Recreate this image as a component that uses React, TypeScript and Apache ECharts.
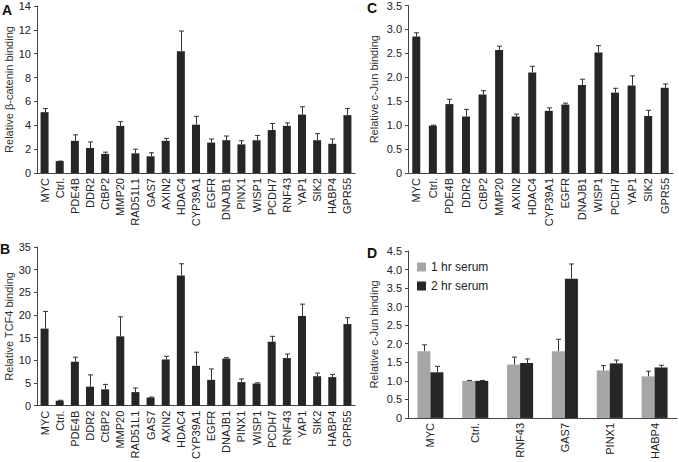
import React, { useEffect, useRef } from "react";
import * as echarts from "echarts";

const catsA = ["MYC","Ctrl.","PDE4B","DDR2","CtBP2","MMP20","RAD51L1","GAS7","AXIN2","HDAC4","CYP39A1","EGFR","DNAJB1","PINX1","WISP1","PCDH7","RNF43","YAP1","SIK2","HABP4","GPR55"];
const valsA = [5.1,1.0,2.7,2.1,1.6,3.95,1.65,1.4,2.7,10.2,4.05,2.55,2.75,2.4,2.75,3.6,3.95,4.9,2.75,2.45,4.85];
const errA = [0.3,0,0.5,0.5,0.15,0.35,0.35,0.3,0.2,1.7,0.7,0.3,0.35,0.3,0.4,0.55,0.25,0.65,0.55,0.4,0.55];

const catsB = catsA;
const valsB = [17.0,1.1,9.7,4.2,3.6,15.3,3.0,1.8,10.2,28.7,8.8,5.7,10.4,5.2,4.9,14.1,10.5,19.8,6.5,6.3,18.0];
const errB = [3.8,0.1,1.0,2.6,1.1,4.3,0.9,0.1,0.7,2.6,3.0,2.4,0.2,0.7,0.15,1.2,0.9,2.6,0.7,0.6,1.4];

const catsC = ["MYC","Ctrl.","PDE4B","DDR2","CtBP2","MMP20","AXIN2","HDAC4","CYP39A1","EGFR","DNAJB1","WISP1","PCDH7","YAP1","SIK2","GPR55"];
const valsC = [2.85,0.99,1.44,1.18,1.64,2.57,1.18,2.1,1.3,1.43,1.84,2.52,1.68,1.83,1.19,1.78];
const errC = [0.08,0.01,0.1,0.15,0.08,0.08,0.05,0.13,0.06,0.03,0.12,0.14,0.09,0.2,0.12,0.08];

const catsD = ["MYC","Ctrl.","RNF43","GAS7","PINX1","HABP4"];
const serum1 = [1.8,1.0,1.44,1.8,1.28,1.12];
const serum1Err = [0.17,0.01,0.2,0.32,0.13,0.14];
const serum2 = [1.23,1.0,1.48,3.75,1.47,1.36];
const serum2Err = [0.16,0.01,0.11,0.4,0.09,0.06];

const FONT = "'Liberation Sans', Arial, Helvetica, sans-serif";
const DARK = "#262626";
const GRAY = "#a6a6a6";

function errSeries(idx: number, vals: number[], errs: number[], offset: number) {
  return {
    type: "custom",
    xAxisIndex: idx,
    yAxisIndex: idx,
    z: 5,
    data: vals.map((v, i) => [i, v, errs[i]]),
    renderItem: (params: any, api: any) => {
      const x = api.value(0);
      const v = api.value(1);
      const e = api.value(2);
      const p0 = api.coord([x, v]);
      const p1 = api.coord([x, v + e]);
      const cx = Math.round(p0[0] + offset) + 0.5;
      return {
        type: "group",
        children: [
          { type: "line", shape: { x1: cx, y1: p0[1], x2: cx, y2: p1[1] }, style: { stroke: "#333", lineWidth: 1 } },
          { type: "line", shape: { x1: cx - 2.5, y1: p1[1], x2: cx + 2.5, y2: p1[1] }, style: { stroke: "#333", lineWidth: 1 } },
        ],
      };
    },
  };
}

function xAxis(idx: number, cats: string[]) {
  return {
    type: "category",
    gridIndex: idx,
    data: cats,
    axisLine: { lineStyle: { color: "#444", width: 1 } },
    axisTick: { length: 3, lineStyle: { color: "#444" } },
    axisLabel: { rotate: 90, interval: 0, fontSize: 11, color: "#222", fontFamily: FONT, margin: 5 },
  };
}

function yAxis(idx: number, max: number, interval: number, name: string, nameGap: number, dec: boolean) {
  return {
    type: "value",
    gridIndex: idx,
    min: 0,
    max,
    interval,
    name,
    nameLocation: "middle",
    nameRotate: 90,
    nameGap,
    nameTextStyle: { fontSize: 11, color: "#333", fontFamily: FONT },
    splitLine: { show: false },
    axisLine: { show: true, lineStyle: { color: "#444", width: 1 } },
    axisTick: { show: true, length: 3, lineStyle: { color: "#444" } },
    axisLabel: {
      fontSize: 11,
      color: "#222",
      fontFamily: FONT,
      margin: 6,
      formatter: (v: number) => (dec ? (v === 0 ? "0" : v.toFixed(1)) : String(v)),
    },
  };
}

export default function App() {
  const ref = useRef<HTMLDivElement>(null);
  useEffect(() => {
    const chart = echarts.init(ref.current!, null, { renderer: "svg" });
    const option: any = {
      animation: false,
      backgroundColor: "#fff",
      textStyle: { fontFamily: FONT },
      grid: [
        { left: 37, right: 324, top: 6, bottom: 289 },
        { left: 37, right: 324, top: 247, bottom: 49 },
        { left: 408, right: 6, top: 5, bottom: 289 },
        { left: 408, right: 2, top: 251, bottom: 43 },
      ],
      xAxis: [xAxis(0, catsA), xAxis(1, catsB), xAxis(2, catsC), xAxis(3, catsD)],
      yAxis: [
        yAxis(0, 14, 2, "Relative β-catenin binding", 22, false),
        yAxis(1, 35, 5, "Relative TCF4 binding", 22, false),
        yAxis(2, 3.5, 0.5, "Relative c-Jun binding", 29, true),
        yAxis(3, 4.5, 0.5, "Relative c-Jun binding", 29, true),
      ],
      legend: {
        data: ["1 hr serum", "2 hr serum"],
        orient: "vertical",
        left: 412,
        top: 256,
        itemWidth: 9,
        itemHeight: 9,
        itemGap: 7,
        icon: "rect",
        textStyle: { fontSize: 12, color: "#222", fontFamily: FONT },
      },
      graphic: [
        { type: "text", left: 2, top: 3, style: { text: "A", font: `bold 14px ${FONT}`, fill: "#111" } },
        { type: "text", left: 0, top: 242, style: { text: "B", font: `bold 14px ${FONT}`, fill: "#111" } },
        { type: "text", left: 367, top: 1, style: { text: "C", font: `bold 14px ${FONT}`, fill: "#111" } },
        { type: "text", left: 367, top: 246, style: { text: "D", font: `bold 14px ${FONT}`, fill: "#111" } },
      ],
      series: [
        { type: "bar", xAxisIndex: 0, yAxisIndex: 0, data: valsA, barWidth: 8, itemStyle: { color: DARK } },
        errSeries(0, valsA, errA, 0),
        { type: "bar", xAxisIndex: 1, yAxisIndex: 1, data: valsB, barWidth: 8, itemStyle: { color: DARK } },
        errSeries(1, valsB, errB, 0),
        { type: "bar", xAxisIndex: 2, yAxisIndex: 2, data: valsC, barWidth: 8, itemStyle: { color: DARK } },
        errSeries(2, valsC, errC, 0),
        { name: "1 hr serum", type: "bar", xAxisIndex: 3, yAxisIndex: 3, data: serum1, barWidth: 13, barGap: "0%", itemStyle: { color: GRAY } },
        { name: "2 hr serum", type: "bar", xAxisIndex: 3, yAxisIndex: 3, data: serum2, barWidth: 13, barGap: "0%", itemStyle: { color: DARK } },
        errSeries(3, serum1, serum1Err, -6.5),
        errSeries(3, serum2, serum2Err, 6.5),
      ],
    };
    chart.setOption(option);
    return () => chart.dispose();
  }, []);
  return <div ref={ref} style={{ position: "absolute", left: 0, top: 0, width: 679, height: 462 }} />;
}
